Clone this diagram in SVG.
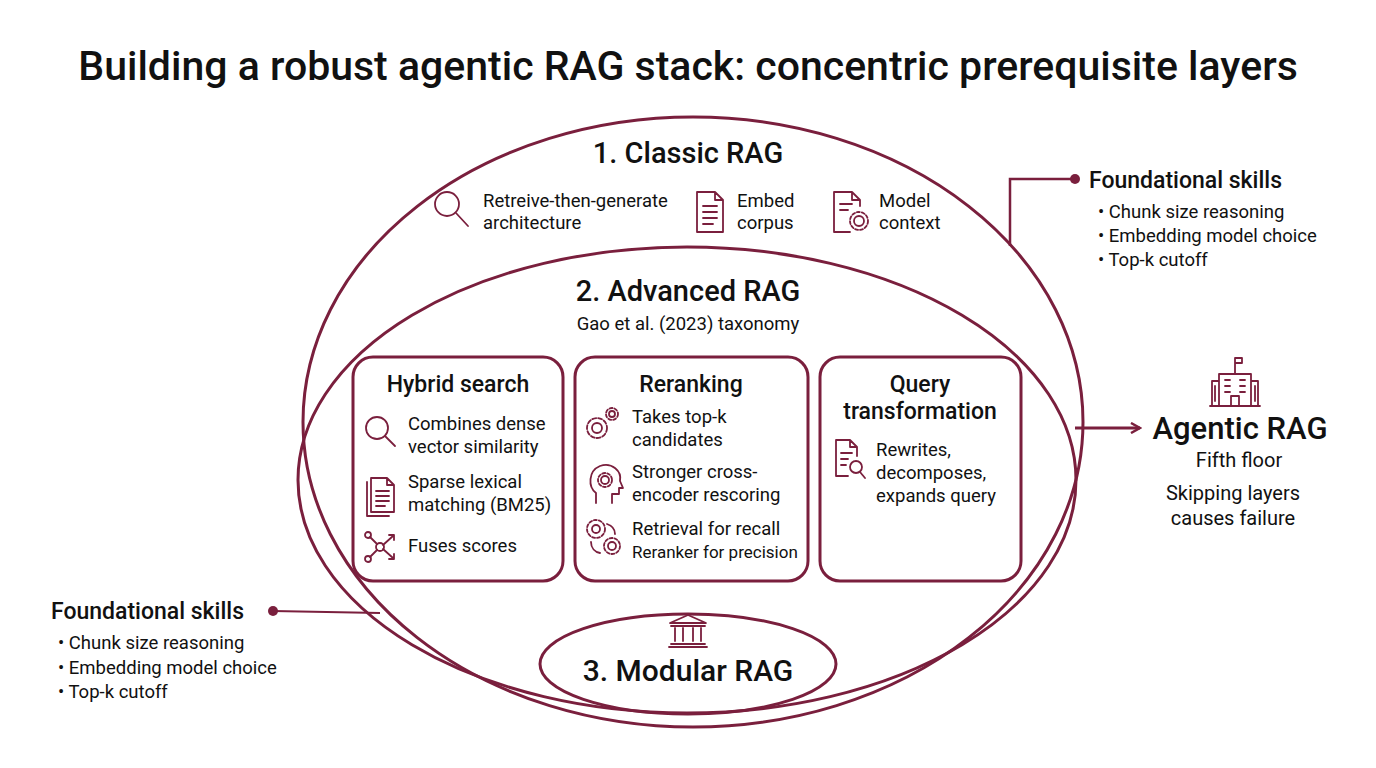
<svg xmlns="http://www.w3.org/2000/svg" width="1376" height="768" viewBox="0 0 1376 768">
<defs>
<style>
text{font-family:Roboto,"Noto Sans",sans-serif;fill:#111}
.h{font-size:27px;font-weight:500;text-anchor:middle}
.b{font-size:18.5px}
.s{font-size:20px;text-anchor:middle}
.ln{fill:none;stroke:#7a1f3d;stroke-width:3}
.ic{fill:none;stroke:#7a1f3d;stroke-width:1.8;stroke-linecap:round;stroke-linejoin:round}
.box{fill:#fff;stroke:#7a1f3d;stroke-width:3}
</style>
<marker id="ar" viewBox="0 0 12 12" refX="10" refY="6" markerWidth="12" markerHeight="12" markerUnits="userSpaceOnUse"><path d="M1 1 L10 6 L1 11" fill="none" stroke="#7a1f3d" stroke-width="2.5"/></marker>
</defs>
<rect width="1376" height="768" fill="#fff"/>
<text x="688" y="80" style="font-size:41px;font-weight:500;text-anchor:middle">Building a robust agentic RAG stack: concentric prerequisite layers</text>

<g id="classic">
<ellipse class="ln" cx="693" cy="422" rx="390" ry="305"/>
<text class="h" x="688" y="163" style="font-size:29px">1. Classic RAG</text>
<g class="ic" transform="translate(433,190)"><circle cx="14" cy="14" r="12"/><path d="M23 23 L35 36"/></g>
<text class="b" x="483" y="207">Retreive-then-generate</text><text class="b" x="483" y="229">architecture</text>
<g class="ic" transform="translate(695,192)"><path d="M2 0 H20 L28 8 V40 H2 Z M20 0 V8 H28 M8 14 H22 M8 20 H22 M8 26 H22 M8 32 H18"/></g>
<text class="b" x="737" y="207">Embed</text><text class="b" x="737" y="229">corpus</text>
<g class="ic" transform="translate(832,192)"><path d="M2 0 H20 L28 8 V14 M20 0 V8 H28 M2 0 V40 H18 M8 12 H20 M8 18 H16"/><circle cx="27" cy="29" r="5"/><circle cx="27" cy="29" r="9" stroke-dasharray="3 2"/></g>
<text class="b" x="879" y="207">Model</text><text class="b" x="879" y="229">context</text>
</g>

<g id="advanced">
<ellipse class="ln" cx="687" cy="480" rx="389" ry="233"/>
<text class="h" x="688" y="301" style="font-size:29px">2. Advanced RAG</text>
<text class="s" x="688" y="330" style="font-size:18.5px">Gao et al. (2023) taxonomy</text>
</g>

<g id="hybrid">
<rect class="box" x="353" y="357" width="210" height="224" rx="20"/>
<text class="h" x="458" y="392" style="font-size:23px">Hybrid search</text>
<g class="ic" transform="translate(364,415)"><circle cx="13" cy="13" r="11"/><path d="M21 21 L31 31"/></g>
<text class="b" x="408" y="430">Combines dense</text><text class="b" x="408" y="453">vector similarity</text>
<g class="ic" transform="translate(367,474)"><path d="M4 4 H20 L27 11 V38 H4 Z M20 4 V11 H27 M0 8 V42 H22 M9 17 H22 M9 22 H22 M9 27 H22 M9 32 H18"/></g>
<text class="b" x="408" y="488">Sparse lexical</text><text class="b" x="408" y="511">matching (BM25)</text>
<g class="ic" transform="translate(363,530)"><circle cx="5" cy="5" r="3"/><circle cx="5" cy="29" r="3"/><circle cx="17" cy="17" r="4"/><path d="M7 7 L14 14 M7 27 L14 20 M20 15 L30 6 M20 19 L30 28 M26 5 H31 V10 M26 29 H31 V24"/></g>
<text class="b" x="408" y="552">Fuses scores</text>
</g>

<g id="rerank">
<rect class="box" x="575" y="357" width="233" height="224" rx="20"/>
<text class="h" x="691" y="392" style="font-size:23px">Reranking</text>
<g class="ic" transform="translate(584,405)"><circle cx="13" cy="23" r="5"/><circle cx="13" cy="23" r="10" stroke-dasharray="4 2"/><circle cx="28" cy="9" r="3"/><circle cx="28" cy="9" r="6" stroke-dasharray="3 2"/></g>
<text class="b" x="632" y="423">Takes top-k</text><text class="b" x="632" y="446">candidates</text>
<g class="ic" transform="translate(588,463)"><path d="M8 40 V30 C0 24 0 8 12 3 C24 -1 34 8 32 18 L35 25 H31 V31 H24 V40"/><circle cx="17" cy="17" r="4"/><circle cx="17" cy="17" r="7" stroke-dasharray="3 2"/></g>
<text class="b" x="632" y="478">Stronger cross-</text><text class="b" x="632" y="501">encoder rescoring</text>
<g class="ic" transform="translate(585,518)"><circle cx="11" cy="11" r="4"/><circle cx="11" cy="11" r="9" stroke-dasharray="3 2"/><circle cx="27" cy="28" r="4"/><circle cx="27" cy="28" r="8" stroke-dasharray="3 2"/><path d="M22 6 C28 8 30 12 30 16 M6 24 C6 30 10 34 15 35"/></g>
<text class="b" x="632" y="535">Retrieval for recall</text><text class="b" x="632" y="558" style="font-size:17px">Reranker for precision</text>
</g>

<g id="query">
<rect class="box" x="820" y="357" width="201" height="224" rx="20"/>
<text class="h" x="920" y="392" style="font-size:23px">Query</text>
<text class="h" x="920" y="419" style="font-size:23px">transformation</text>
<g class="ic" transform="translate(834,440)"><path d="M2 0 H16 L23 7 V16 M16 0 V7 H23 M2 0 V36 H14 M7 13 H18 M7 19 H14 M7 25 H12"/><circle cx="22" cy="27" r="6"/><path d="M26 32 L31 38"/></g>
<text class="b" x="876" y="456">Rewrites,</text><text class="b" x="876" y="479">decomposes,</text><text class="b" x="876" y="502">expands query</text>
</g>

<g id="modular">
<ellipse class="ln" cx="688" cy="664" rx="148" ry="50" fill="#fff"/>
<g class="ic" transform="translate(668,613)"><path d="M2 10 L20 2 L38 10 Z M3 13 H37 M7 15 V28 M15 15 V28 M25 15 V28 M33 15 V28 M3 31 H37 M1 34 H39"/></g>
<text class="h" x="688" y="681" style="font-size:30px">3. Modular RAG</text>
</g>

<g id="skills-top">
<text x="1089" y="188" style="font-size:23px;font-weight:500">Foundational skills</text>
<text class="b" x="1098" y="218">• Chunk size reasoning</text>
<text class="b" x="1098" y="242">• Embedding model choice</text>
<text class="b" x="1098" y="266">• Top-k cutoff</text>
</g>
<g id="skills-bottom">
<text x="51" y="619" style="font-size:23px;font-weight:500">Foundational skills</text>
<text class="b" x="58" y="649">• Chunk size reasoning</text>
<text class="b" x="58" y="674">• Embedding model choice</text>
<text class="b" x="58" y="698">• Top-k cutoff</text>
</g>
<g id="agentic">
<g class="ic" transform="translate(1210,355)"><path d="M0 51 H50 M9 51 V19 H41 V51 M2 51 V26 H9 M48 51 V26 H41 M21 51 V41 H29 V51 M25 19 V3 M25 3 H32 V8 H25 M5 31 V46 M45 31 V46 M15 25 H20 M30 25 H35 M15 31 H20 M30 31 H35 M15 37 H20 M30 37 H35"/></g>
<text class="h" x="1240" y="439" style="font-size:31px">Agentic RAG</text>
<text class="s" x="1239" y="467">Fifth floor</text>
<text class="s" x="1233" y="500">Skipping layers</text>
<text class="s" x="1233" y="525">causes failure</text>
</g>

<g id="connectors">
<path class="ln" d="M1010 246 V179 H1072" style="stroke-width:2.5"/>
<circle cx="1075" cy="179" r="5" fill="#7a1f3d"/>
<path class="ln" d="M273 611 L380 613" style="stroke-width:2"/>
<circle cx="273" cy="611" r="5" fill="#7a1f3d"/>
<path class="ln" d="M1075 428 H1140" marker-end="url(#ar)"/>
</g>
</svg>
